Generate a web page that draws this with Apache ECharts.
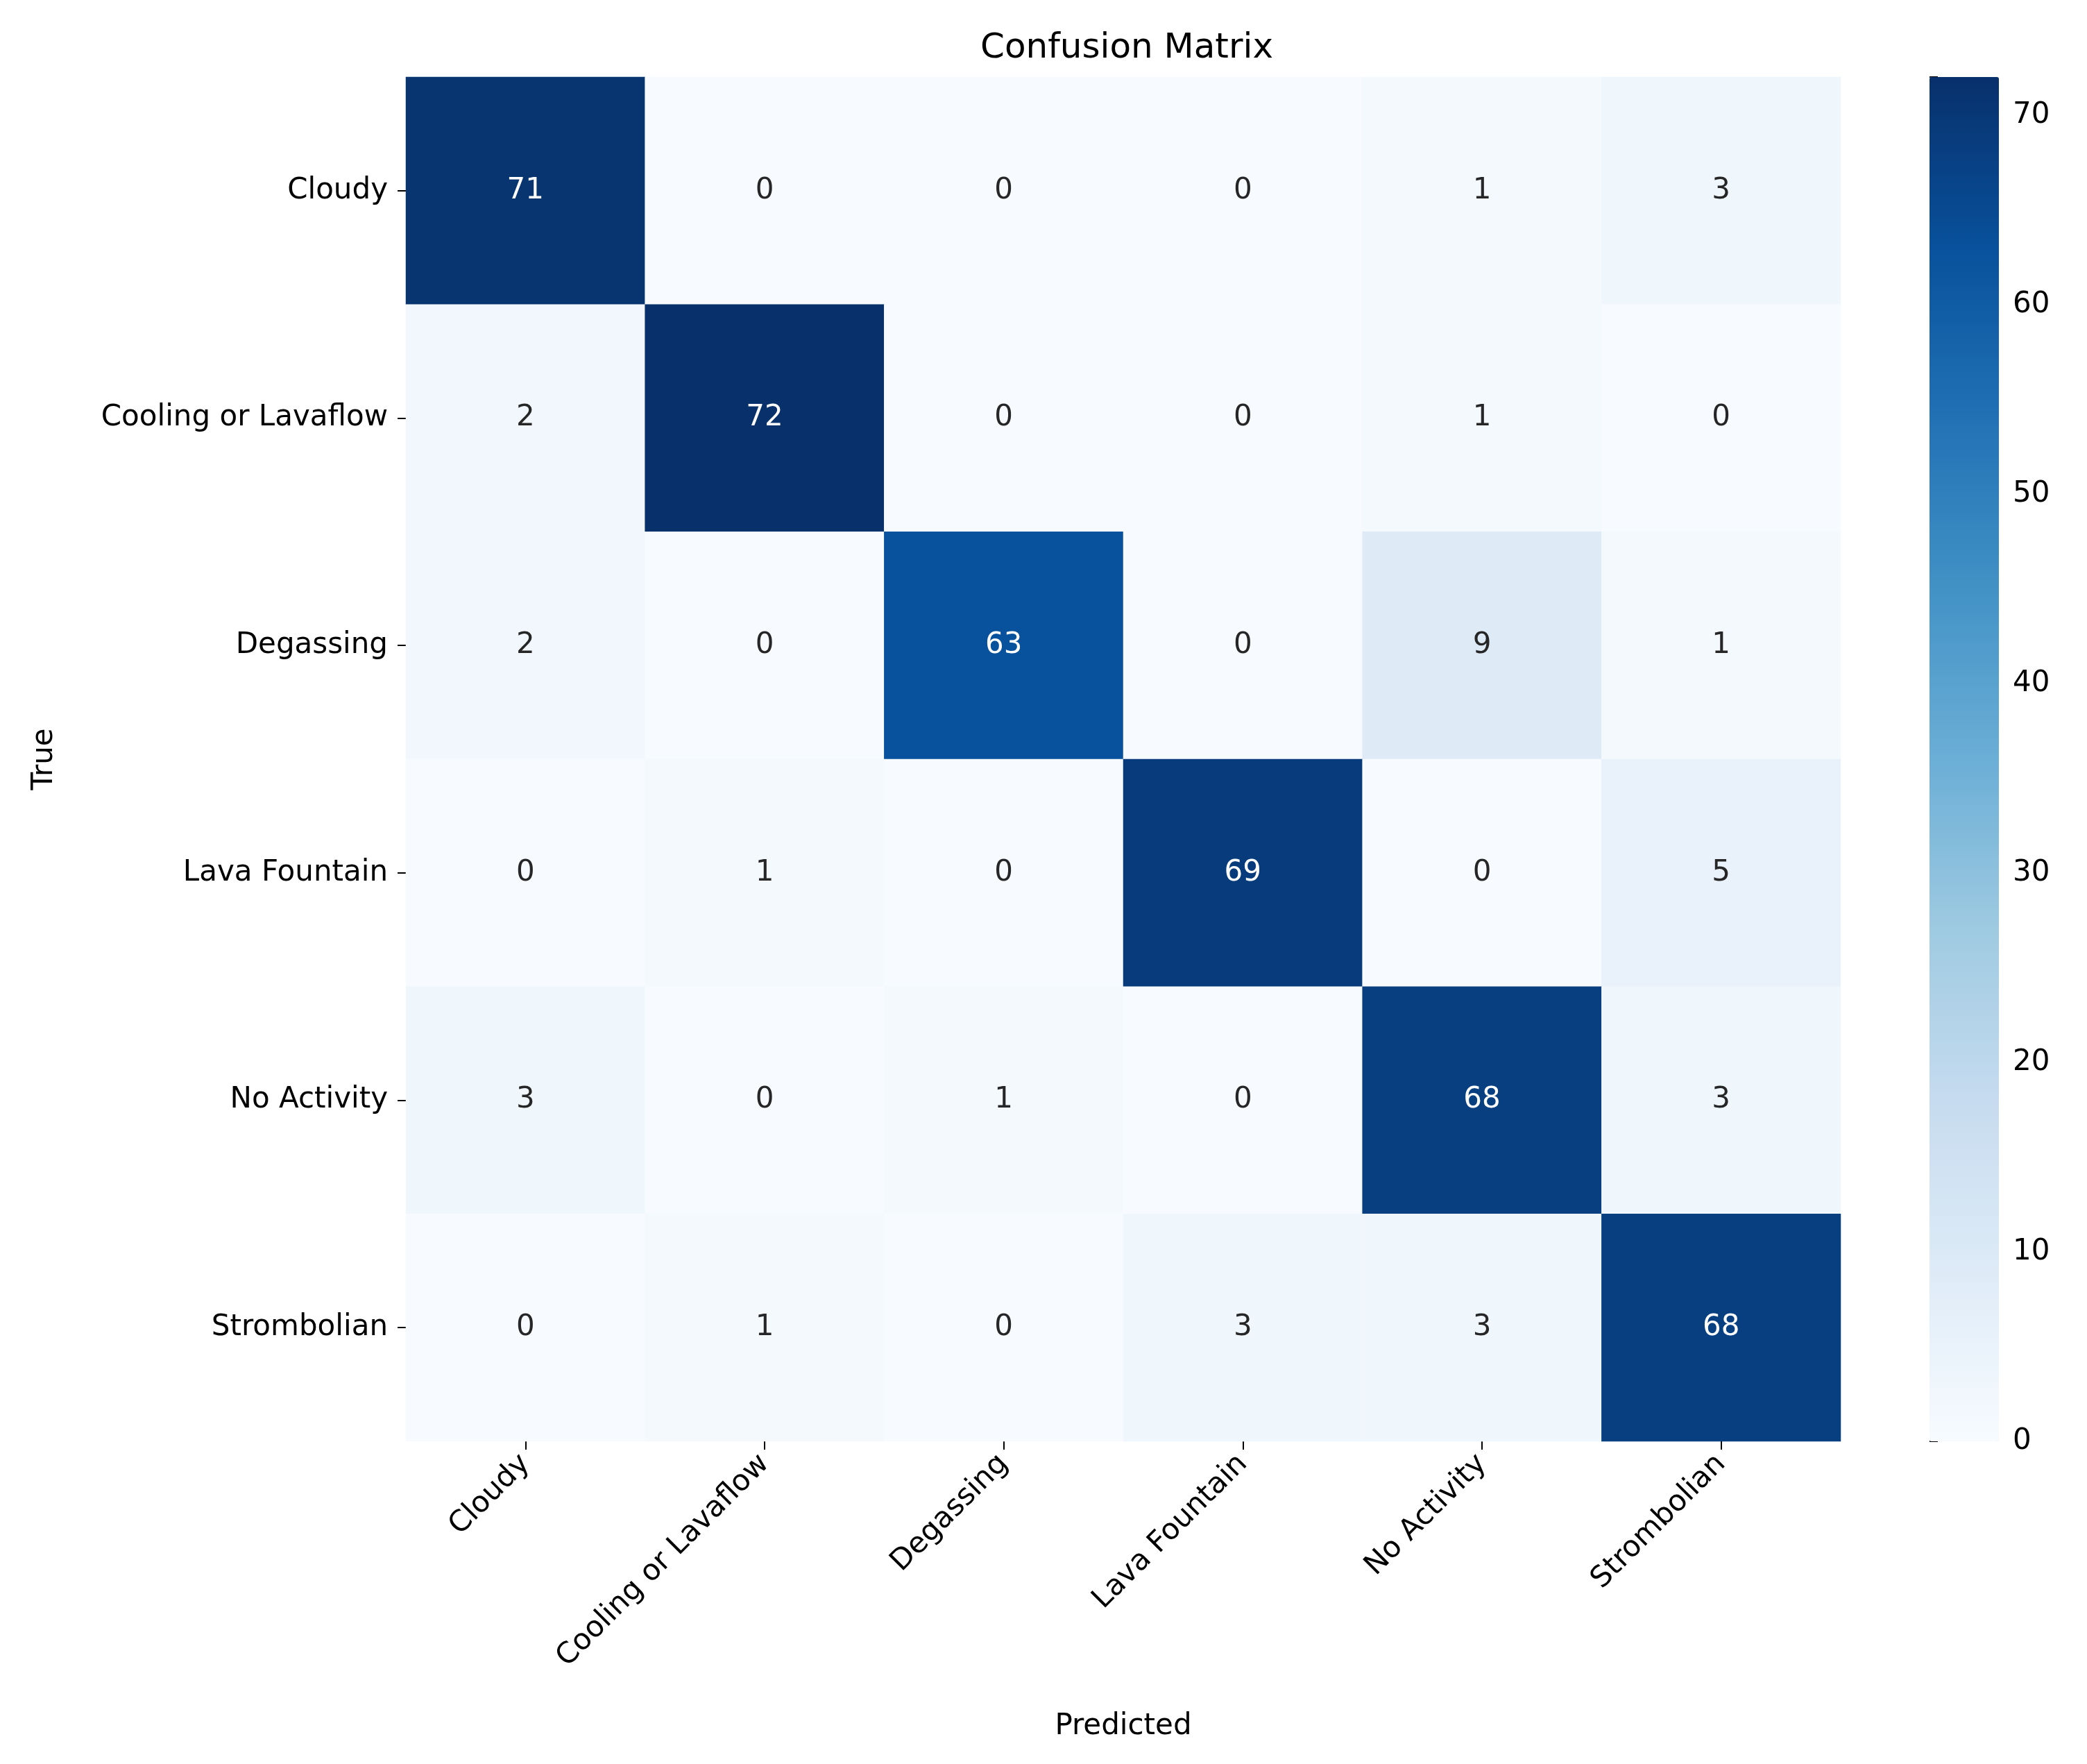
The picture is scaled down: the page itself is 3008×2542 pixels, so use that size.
<!DOCTYPE html>
<html>
<head>
<meta charset="utf-8">
<script src="https://cdn.jsdelivr.net/npm/echarts@6/dist/echarts.min.js"></script>
<style>html,body{margin:0;padding:0;background:#fff}#chart{width:3008px;height:2542px}</style>
</head>
<body>
<div id="chart"></div>
<script>
// class labels, same order on both axes
var classes = ["Cloudy", "Cooling or Lavaflow", "Degassing", "Lava Fountain", "No Activity", "Strombolian"];
// rows = true class, columns = predicted class
var matrix = [
    [71, 0, 0, 0, 1, 3],
    [2, 72, 0, 0, 1, 0],
    [2, 0, 63, 0, 9, 1],
    [0, 1, 0, 69, 0, 5],
    [3, 0, 1, 0, 68, 3],
    [0, 1, 0, 3, 3, 68]
];
var barTicks = [0, 10, 20, 30, 40, 50, 60, 70];
var blues = ["#f7fbff", "#deebf7", "#c6dbef", "#9ecae1", "#6baed6", "#4292c6", "#2171b5", "#08519c", "#08306b"];

var cells = [];
for (var i = 0; i < matrix.length; i++) {
    for (var j = 0; j < matrix[i].length; j++) {
        cells.push([j, i, matrix[i][j]]);
    }
}

var font = "DejaVu Sans";
var chart = echarts.init(document.getElementById("chart"));
var option = {
    backgroundColor: "#fff",
    animation: false,
    textStyle: { fontFamily: font },
    title: {
        text: "Confusion Matrix", left: 1619, top: 40, textAlign: "center",
        textStyle: { fontFamily: font, fontSize: 50, fontWeight: "normal", color: "#000" }
    },
    grid: [
        { left: 585, top: 111, width: 2068, height: 1966 },
        { left: 2781, top: 111, width: 100, height: 1966 }
    ],
    xAxis: [{
        type: "category", data: classes, gridIndex: 0,
        name: "Predicted", nameLocation: "middle", nameGap: 390,
        nameTextStyle: { fontSize: 42, color: "#000" },
        axisLine: { show: false },
        axisTick: { show: true, alignWithLabel: true, length: 12, lineStyle: { color: "#000", width: 2 } },
        axisLabel: { rotate: 45, fontSize: 42, color: "#000", margin: 26 },
        splitLine: { show: false }
    }, {
        type: "value", gridIndex: 1, show: false, min: 0, max: 1
    }],
    yAxis: [{
        type: "category", data: classes, inverse: true, gridIndex: 0,
        name: "True", nameLocation: "middle", nameGap: 500, nameRotate: 90,
        nameTextStyle: { fontSize: 42, color: "#000" },
        axisLine: { show: false },
        axisTick: { show: true, alignWithLabel: true, length: 12, lineStyle: { color: "#000", width: 2 } },
        axisLabel: { fontSize: 42, color: "#000", margin: 26 },
        splitLine: { show: false }
    }, {
        type: "value", gridIndex: 1, position: "right", min: 0, max: 72, interval: 10,
        axisLine: { show: false },
        axisTick: { show: true, length: 12, lineStyle: { color: "#000", width: 2 } },
        axisLabel: { fontSize: 42, color: "#000", margin: 20,
            formatter: function (v) { return barTicks.indexOf(v) >= 0 ? v : ""; } },
        splitLine: { show: false }
    }],
    visualMap: {
        type: "continuous", min: 0, max: 72, seriesIndex: 0,
        left: 2781, top: 111, itemWidth: 100, itemHeight: 1966, padding: 0,
        calculable: false, showLabel: false, text: null,
        inRange: { color: blues }
    },
    series: [{
        type: "heatmap", xAxisIndex: 0, yAxisIndex: 0, data: cells,
        label: {
            show: true, fontSize: 42, fontFamily: font,
            formatter: function (p) { return p.value[2]; },
            color: "#262626",
            rich: {}
        },
        labelLayout: null
    }]
};
// white text on dark cells
option.series[0].data = cells.map(function (c) {
    return { value: c, label: { color: c[2] > 36 ? "#fff" : "#262626" } };
});
chart.setOption(option);
</script>
</body>
</html>
